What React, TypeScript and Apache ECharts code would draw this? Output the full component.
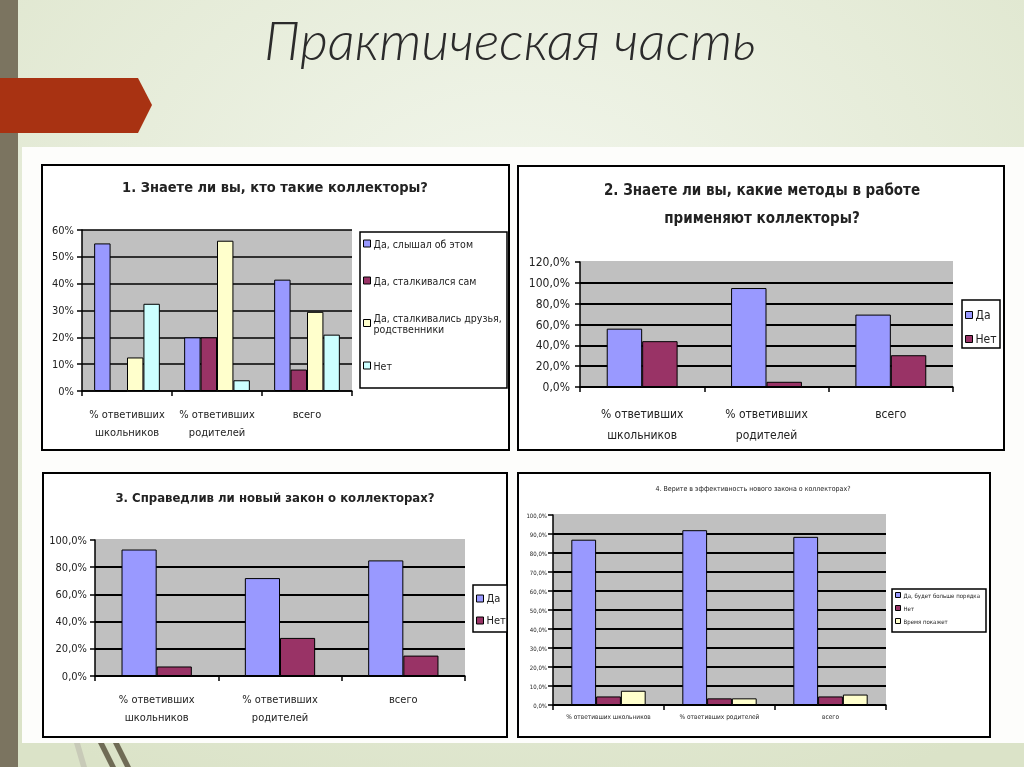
import React, { useEffect, useRef } from "react";
import * as echarts from "echarts";

// ---------- data ----------
const categories = ["% ответивших\nшкольников", "% ответивших\nродителей", "всего"];
const categories4 = ["% ответивших школьников", "% ответивших родителей", "всего"];

const q1Names = ["Да, слышал об этом", "Да, сталкивался сам", "Да, сталкивались друзья,\nродственники", "Нет"];
const q1Heard = [55, 20, 41.5];
const q1Self = [0, 20, 8];
const q1Friends = [12.5, 56, 29.5];
const q1No = [32.5, 4, 21];

const q2Yes = [56, 95, 69.5];
const q2No = [44, 5, 30.5];

const q3Yes = [93, 72, 85];
const q3No = [7, 28, 15];

const q4Names = ["Да, будет больше порядка", "Нет", "Время покажет"];
const q4Yes = [87, 92, 88.5];
const q4No = [4.5, 3.5, 4.5];
const q4Wait = [7.5, 3.5, 5.5];

const titles = [
  "1. Знаете ли вы, кто такие коллекторы?",
  "2. Знаете ли вы, какие методы в работе",
  "применяют коллекторы?",
  "3. Справедлив ли новый закон о коллекторах?",
  "4. Верите в эффективность нового закона о коллекторах?",
];
const slideTitle = "Практическая часть";

// ---------- styles ----------
const FONT = '"Liberation Sans Narrow","Arial Narrow","DejaVu Sans Condensed","Liberation Sans",sans-serif';
const BLUE = "#9999ff";
const PLUM = "#993366";
const CREAM = "#ffffcc";
const CYAN = "#ccffff";
const PLOT = "#c0c0c0";
const TXT = "#222";

const pct0 = (v: number) => `${v}%`;
const pct1 = (v: number) => `${v.toFixed(1).replace(".", ",")}%`;

function yAx(gi: number, max: number, interval: number, fmt: (v: number) => string, fs: number, margin: number, lw: number, topGrey: boolean) {
  const n = Math.round(max / interval) + 1;
  const colors: string[] = [];
  for (let i = 0; i < n; i++) colors.push(topGrey && i === n - 1 ? PLOT : "#000");
  return {
    type: "value",
    gridIndex: gi,
    min: 0,
    max,
    interval,
    axisLine: { show: true, lineStyle: { color: "#000", width: 1.5 } },
    axisTick: { show: true, length: 5, lineStyle: { color: "#000", width: 1.5 } },
    axisLabel: { formatter: fmt, fontSize: fs, margin, color: TXT, fontFamily: FONT },
    splitLine: { show: true, lineStyle: { color: colors, width: lw } },
  };
}

function xAx(gi: number, data: string[], fs: number, lh: number, margin: number) {
  return {
    type: "category",
    gridIndex: gi,
    data,
    axisLine: { show: true, lineStyle: { color: "#000", width: 1.5 } },
    axisTick: { show: true, length: 5, lineStyle: { color: "#000", width: 1.5 } },
    axisLabel: { interval: 0, fontSize: fs, lineHeight: lh, margin, color: TXT, fontFamily: FONT },
  };
}

function bar(gi: number, name: string, data: number[], color: string, gap: string) {
  return {
    type: "bar",
    name,
    xAxisIndex: gi,
    yAxisIndex: gi,
    data,
    barGap: "0%",
    barCategoryGap: gap,
    itemStyle: { color, borderColor: "#000", borderWidth: 1 },
  };
}

function box(x: number, y: number, w: number, h: number, lw: number, z: number) {
  return { type: "rect", z, shape: { x, y, width: w, height: h }, style: { fill: "#fff", stroke: "#000", lineWidth: lw } };
}

function txt(text: string, x: number, y: number, fs: number, weight: string) {
  return {
    type: "text",
    z: 20,
    x,
    y,
    style: { text, fontSize: fs, fontWeight: weight, fontFamily: FONT, fill: TXT, textAlign: "center", textVerticalAlign: "middle" },
  };
}

function legend(left: number, top: number, names: string[], colors: string[], fs: number, gap: number, iw: number) {
  return {
    orient: "vertical",
    left,
    top,
    z: 10,
    data: names.map((name, i) => ({ name, itemStyle: { color: colors[i], borderColor: "#000", borderWidth: 1 } })),
    icon: "rect",
    itemWidth: iw,
    itemHeight: iw,
    itemGap: gap,
    padding: 0,
    selectedMode: false,
    textStyle: { fontSize: fs, color: TXT, fontFamily: FONT, padding: [0, 0, 0, -2] },
  };
}

export default function App() {
  const ref = useRef<HTMLDivElement>(null);
  useEffect(() => {
    if (!ref.current) return;
    const chart = echarts.init(ref.current, null, { renderer: "svg" });
    const option: any = {
      animation: false,
      graphic: {
        elements: [
          {
            type: "rect", z: -20, shape: { x: 0, y: 0, width: 1024, height: 767 },
            style: {
              fill: new echarts.graphic.RadialGradient(0.5, 0.3, 0.8, [
                { offset: 0, color: "#f2f6ec" },
                { offset: 1, color: "#dbe3c8" },
              ]),
            },
          },
          { type: "rect", z: -19, shape: { x: 0, y: 0, width: 18, height: 767 }, style: { fill: "#7b7460" } },
          { type: "polygon", z: -18, shape: { points: [[0, 78], [138, 78], [152, 105], [138, 133], [0, 133]] }, style: { fill: "#a83212" } },
          { type: "rect", z: -17, shape: { x: 22, y: 147, width: 1002, height: 596 }, style: { fill: "#fdfdfb" } },
          { type: "polygon", z: -17, shape: { points: [[74, 743], [80, 743], [87, 767], [81, 767]] }, style: { fill: "#c8cab8" } },
          { type: "polygon", z: -17, shape: { points: [[98, 743], [104, 743], [116, 767], [110, 767]] }, style: { fill: "#6f6b55" } },
          { type: "polygon", z: -17, shape: { points: [[113, 743], [119, 743], [131, 767], [125, 767]] }, style: { fill: "#6f6b55" } },
          {
            type: "text", z: 20, x: 510, y: 39,
            style: { text: slideTitle, fontSize: 54, fontStyle: "italic", fontWeight: 300, fontFamily: "Lato, 'Open Sans', sans-serif", fill: "#2b2b2b", textAlign: "center", textVerticalAlign: "middle" },
          },
          box(42, 165, 467, 285, 2, -10),
          box(518, 166, 486, 284, 2, -10),
          box(43, 473, 464, 264, 2, -10),
          box(518, 473, 472, 264, 2, -10),
          box(360, 232, 147, 156, 1.5, -5),
          box(962, 300, 38, 48, 1.5, -5),
          box(473, 585, 34, 47, 1.5, -5),
          box(892, 589, 94, 43, 1.5, -5),
          txt(titles[0], 275, 187, 14.5, "bold"),
          txt(titles[1], 762, 190, 15, "bold"),
          txt(titles[2], 762, 218, 15, "bold"),
          txt(titles[3], 275, 497, 13, "bold"),
          txt(titles[4], 753, 489, 7, "normal"),
        ],
      },
      grid: [
        { left: 82, top: 230, width: 270, height: 161, show: true, backgroundColor: PLOT, borderWidth: 0 },
        { left: 580, top: 262, width: 373, height: 125, show: true, backgroundColor: PLOT, borderWidth: 0 },
        { left: 95, top: 540, width: 370, height: 136, show: true, backgroundColor: PLOT, borderWidth: 0 },
        { left: 553, top: 515, width: 333, height: 190, show: true, backgroundColor: PLOT, borderWidth: 0 },
      ],
      xAxis: [
        xAx(0, categories, 11, 18, 14),
        xAx(1, categories, 12, 21, 16),
        xAx(2, categories, 11, 18, 14),
        xAx(3, categories4, 6.5, 8, 8),
      ],
      yAxis: [
        yAx(0, 60, 10, pct0, 11, 8, 1.5, false),
        yAx(1, 120, 20, pct1, 12, 10, 2, true),
        yAx(2, 100, 20, pct1, 11, 8, 2, true),
        yAx(3, 100, 10, pct1, 6, 6, 2, true),
      ],
      legend: [
        legend(363, 238, q1Names, [BLUE, PLUM, CREAM, CYAN], 10.5, 26, 7),
        legend(965, 309, ["Да", "Нет"], [BLUE, PLUM], 12, 12, 7),
        legend(476, 593, ["Да", "Нет"], [BLUE, PLUM], 11, 11, 7),
        legend(895, 592, q4Names, [BLUE, PLUM, CREAM], 6, 7, 5),
      ],
      series: [
        bar(0, q1Names[0], q1Heard, BLUE, "27%"),
        bar(0, q1Names[1], q1Self, PLUM, "27%"),
        bar(0, q1Names[2], q1Friends, CREAM, "27%"),
        bar(0, q1Names[3], q1No, CYAN, "27%"),
        bar(1, "Да", q2Yes, BLUE, "43%"),
        bar(1, "Нет", q2No, PLUM, "43%"),
        bar(2, "Да", q3Yes, BLUE, "43%"),
        bar(2, "Нет", q3No, PLUM, "43%"),
        bar(3, q4Names[0], q4Yes, BLUE, "33%"),
        bar(3, q4Names[1], q4No, PLUM, "33%"),
        bar(3, q4Names[2], q4Wait, CREAM, "33%"),
      ],
    };
    chart.setOption(option);
    return () => chart.dispose();
  }, []);
  return <div ref={ref} style={{ position: "fixed", left: 0, top: 0, width: 1024, height: 767 }} />;
}
